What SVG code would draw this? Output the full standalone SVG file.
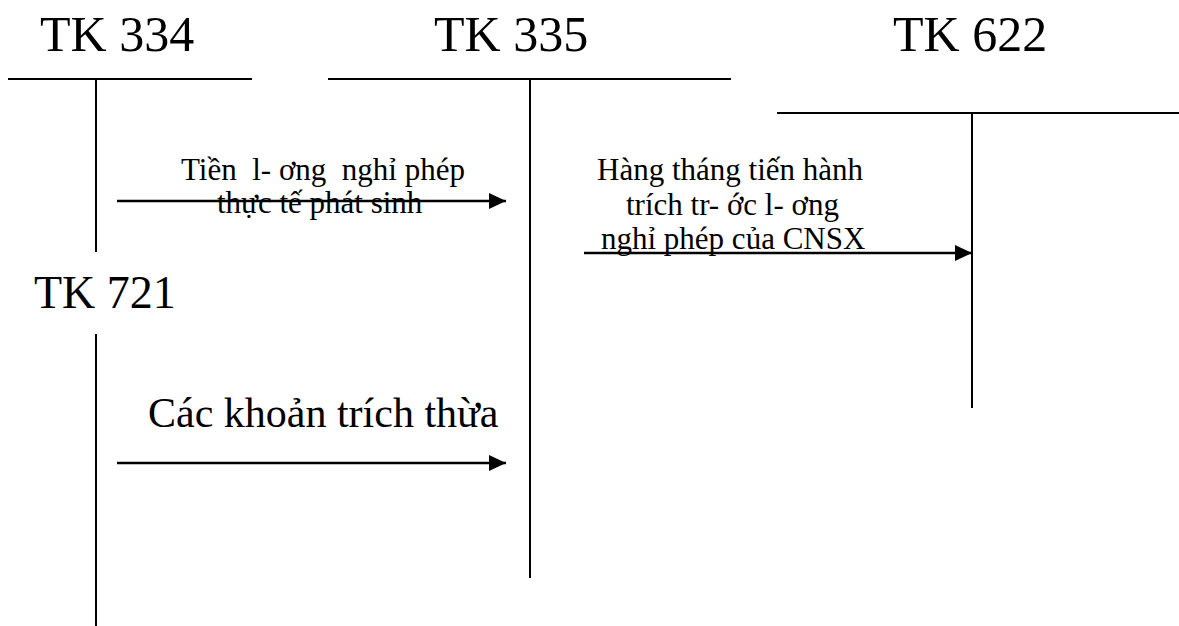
<svg xmlns="http://www.w3.org/2000/svg" width="1179" height="626" viewBox="0 0 1179 626">
  <style>
    .acct { fill: none; stroke: #000; stroke-width: 2; }
    .flow { fill: none; stroke: #000; stroke-width: 2.5; }
    .acct-name { font-family: "Liberation Serif", "Times New Roman", serif; font-size: 50px; fill: #000; }
    .label { font-family: "Liberation Serif", "Times New Roman", serif; font-size: 31px; fill: #000; white-space: pre; }
    .label-lg { font-family: "Liberation Serif", "Times New Roman", serif; font-size: 42px; fill: #000; }
  </style>
  <defs>
    <marker id="arrow" markerUnits="userSpaceOnUse" markerWidth="18" markerHeight="16" refX="17" refY="8" orient="auto">
      <path d="M0,0 L17,8 L0,16 Z" fill="#000"/>
    </marker>
  </defs>
  <rect width="1179" height="626" fill="#fff"/>

  <!-- T-account 334 -->
  <g id="tk334">
    <text class="acct-name" x="40" y="51">TK 334</text>
    <line class="acct" x1="8" y1="79" x2="252" y2="79"/>
    <line class="acct" x1="96" y1="79" x2="96" y2="252"/>
  </g>

  <!-- T-account 335 -->
  <g id="tk335">
    <text class="acct-name" x="434" y="51">TK 335</text>
    <line class="acct" x1="328" y1="79" x2="731" y2="79"/>
    <line class="acct" x1="530" y1="79" x2="530" y2="578"/>
  </g>

  <!-- T-account 622 -->
  <g id="tk622">
    <text class="acct-name" x="893" y="51">TK 622</text>
    <line class="acct" x1="777" y1="113" x2="1179" y2="113"/>
    <line class="acct" x1="972" y1="113" x2="972" y2="408"/>
  </g>

  <!-- T-account 721 (continues the left column) -->
  <g id="tk721">
    <text class="acct-name" x="34" y="308" style="font-size:46px">TK 721</text>
    <line class="acct" x1="96" y1="334" x2="96" y2="626"/>
  </g>

  <!-- Entries between accounts -->
  <g id="connectors">
    <line class="flow" x1="117" y1="201" x2="506" y2="201" marker-end="url(#arrow)"/>
    <line class="flow" x1="584" y1="253" x2="972" y2="253" marker-end="url(#arrow)"/>
    <line class="flow" x1="117" y1="463" x2="506" y2="463" marker-end="url(#arrow)"/>
  </g>

  <g id="labels">
    <text class="label" x="181" y="180">Tiền  l- ơng  nghỉ phép</text>
    <text class="label" x="217" y="213">thực tế phát sinh</text>
    <text class="label" x="597" y="180">Hàng tháng tiến hành</text>
    <text class="label" x="626" y="215">trích tr- ớc l- ơng</text>
    <text class="label" x="601" y="249">nghỉ phép của CNSX</text>
    <text class="label-lg" x="148" y="427">Các khoản trích thừa</text>
  </g>
</svg>
